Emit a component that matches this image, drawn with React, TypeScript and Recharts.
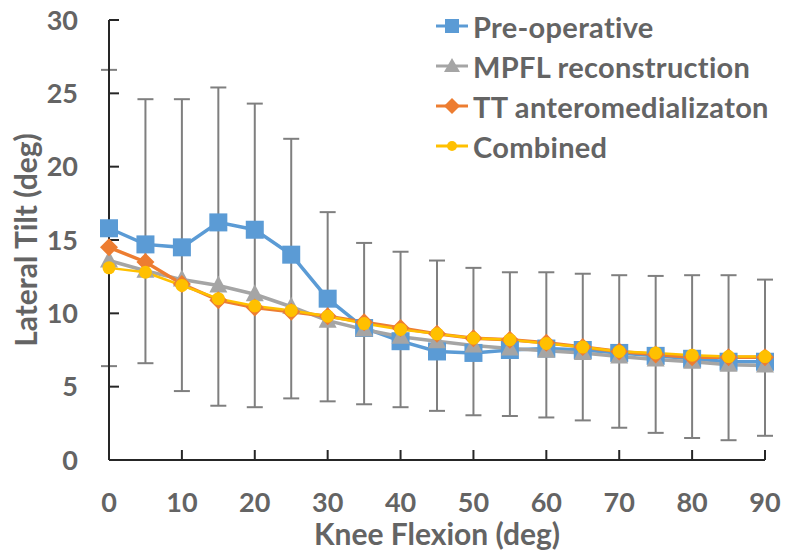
import { LineChart, Line, XAxis, YAxis, ErrorBar } from 'recharts';

const flexion = [0, 5, 10, 15, 20, 25, 30, 35, 40, 45, 50, 55, 60, 65, 70, 75, 80, 85, 90];
const preOperative = [15.8, 14.7, 14.5, 16.2, 15.7, 14.0, 11.0, 9.0, 8.1, 7.4, 7.3, 7.5, 7.6, 7.5, 7.3, 7.1, 6.9, 6.7, 6.7];
const mpfl = [13.6, 12.9, 12.3, 11.9, 11.3, 10.45, 9.5, 8.9, 8.4, 8.1, 7.8, 7.6, 7.45, 7.3, 7.05, 6.85, 6.7, 6.5, 6.45];
const ttAm = [14.5, 13.5, 12.0, 10.9, 10.4, 10.1, 9.8, 9.4, 9.0, 8.6, 8.3, 8.2, 8.0, 7.7, 7.4, 7.2, 7.0, 7.0, 7.0];
const combined = [13.1, 12.8, 11.9, 11.0, 10.5, 10.2, 9.8, 9.3, 8.9, 8.6, 8.3, 8.2, 7.95, 7.7, 7.4, 7.3, 7.15, 7.05, 7.05];
const errLow = [6.4, 6.6, 4.7, 3.7, 3.6, 4.2, 4.0, 3.8, 3.6, 3.35, 3.05, 3.0, 2.9, 2.7, 2.2, 1.85, 1.5, 1.35, 1.65];
const errHigh = [26.6, 24.6, 24.6, 25.4, 24.3, 21.9, 16.9, 14.8, 14.2, 13.6, 13.1, 12.8, 12.8, 12.7, 12.6, 12.55, 12.6, 12.6, 12.3];
const xTicks = [0, 10, 20, 30, 40, 50, 60, 70, 80, 90];
const yTicks = [0, 5, 10, 15, 20, 25, 30];

const data = flexion.map((x, i) => ({
  x,
  pre: preOperative[i],
  mpfl: mpfl[i],
  tt: ttAm[i],
  combined: combined[i],
  errLow: errLow[i],
  errHigh: errHigh[i],
}));

const BLUE = '#5B9BD5';
const GREY = '#A5A5A5';
const ORANGE = '#ED7D31';
const YELLOW = '#FFC000';
const TEXT = '#646464';
const FONT = 'Lato, sans-serif';

const squareDot = (p: any) => (
  <rect key={`sq-${p.index}`} x={p.cx - 9} y={p.cy - 9} width={18} height={18} fill={BLUE} />
);
const triangleDot = (p: any) => (
  <polygon key={`tr-${p.index}`} points={`${p.cx},${p.cy - 10} ${p.cx + 9},${p.cy + 7} ${p.cx - 9},${p.cy + 7}`} fill={GREY} />
);
const diamondDot = (p: any) => (
  <polygon key={`di-${p.index}`} points={`${p.cx},${p.cy - 9} ${p.cx + 9},${p.cy} ${p.cx},${p.cy + 9} ${p.cx - 9},${p.cy}`} fill={ORANGE} />
);
const circleDot = (p: any) => (
  <circle key={`ci-${p.index}`} cx={p.cx} cy={p.cy} r={6.5} fill={YELLOW} />
);

const legendItems = [
  { name: 'Pre-operative', color: BLUE, marker: 'square' },
  { name: 'MPFL reconstruction', color: GREY, marker: 'triangle' },
  { name: 'TT anteromedializaton', color: ORANGE, marker: 'diamond' },
  { name: 'Combined', color: YELLOW, marker: 'circle' },
];

function LegendMarker({ color, marker }: { color: string; marker: string }) {
  return (
    <svg width={34} height={20} style={{ display: 'block' }}>
      <line x1={1} y1={10} x2={33} y2={10} stroke={color} strokeWidth={3} />
      {marker === 'square' && <rect x={10} y={3} width={14} height={14} fill={color} />}
      {marker === 'triangle' && <polygon points="17,2 25,16 9,16" fill={color} />}
      {marker === 'diamond' && <polygon points="17,2 25,10 17,18 9,10" fill={color} />}
      {marker === 'circle' && <circle cx={17} cy={10} r={5} fill={color} />}
    </svg>
  );
}

function ChartLegend() {
  return (
    <div style={{ position: 'absolute', left: 435, top: 6, fontFamily: FONT, fontWeight: 700, fontSize: 29, color: TEXT }}>
      {legendItems.map((it) => (
        <div key={it.name} style={{ display: 'flex', alignItems: 'center', height: 40, whiteSpace: 'nowrap' }}>
          <LegendMarker color={it.color} marker={it.marker} />
          <span style={{ marginLeft: 4, letterSpacing: 0.3 }}>{it.name}</span>
        </div>
      ))}
    </div>
  );
}

export default function App() {
  const tickStyle = { fontFamily: FONT, fontWeight: 700, fontSize: 27, fill: TEXT };
  const titleStyle = { fontFamily: FONT, fontWeight: 700, fontSize: 30, fill: TEXT, textAnchor: 'middle' as const };
  return (
    <div style={{ position: 'absolute', left: 0, top: 0, width: 785, height: 557, background: '#fff' }}>
      <LineChart width={785} height={557} data={data} margin={{ top: 20, right: 20, bottom: 0, left: 0 }}>
        <XAxis
          dataKey="x"
          type="number"
          domain={[0, 90]}
          ticks={xTicks}
          height={97}
          tickSize={-10}
          tickMargin={43}
          stroke="#262626"
          strokeWidth={2}
          tick={tickStyle}
          label={{ value: 'Knee Flexion (deg)', position: 'insideBottom', offset: 12, style: titleStyle }}
        />
        <YAxis
          type="number"
          domain={[0, 30]}
          ticks={yTicks}
          width={109}
          tickSize={-10}
          tickMargin={41}
          stroke="#262626"
          strokeWidth={2}
          allowDataOverflow
          tick={tickStyle}
          label={{ value: 'Lateral Tilt (deg)', angle: -90, position: 'center', dx: -28, style: titleStyle }}
        />
        <Line
          dataKey="errLow"
          stroke="none"
          dot={false}
          activeDot={false}
          legendType="none"
          isAnimationActive={false}
        >
          <ErrorBar
            dataKey={(d: any) => [0, d.errHigh - d.errLow]}
            width={8}
            stroke="#7F7F7F"
            strokeWidth={2}
            direction="y"
            isAnimationActive={false}
          />
        </Line>
        <Line dataKey="pre" stroke={BLUE} strokeWidth={3.5} dot={squareDot} activeDot={false} isAnimationActive={false} />
        <Line dataKey="mpfl" stroke={GREY} strokeWidth={3.5} dot={triangleDot} activeDot={false} isAnimationActive={false} />
        <Line dataKey="tt" stroke={ORANGE} strokeWidth={3.5} dot={diamondDot} activeDot={false} isAnimationActive={false} />
        <Line dataKey="combined" stroke={YELLOW} strokeWidth={2.5} dot={circleDot} activeDot={false} isAnimationActive={false} />
      </LineChart>
      <ChartLegend />
    </div>
  );
}
